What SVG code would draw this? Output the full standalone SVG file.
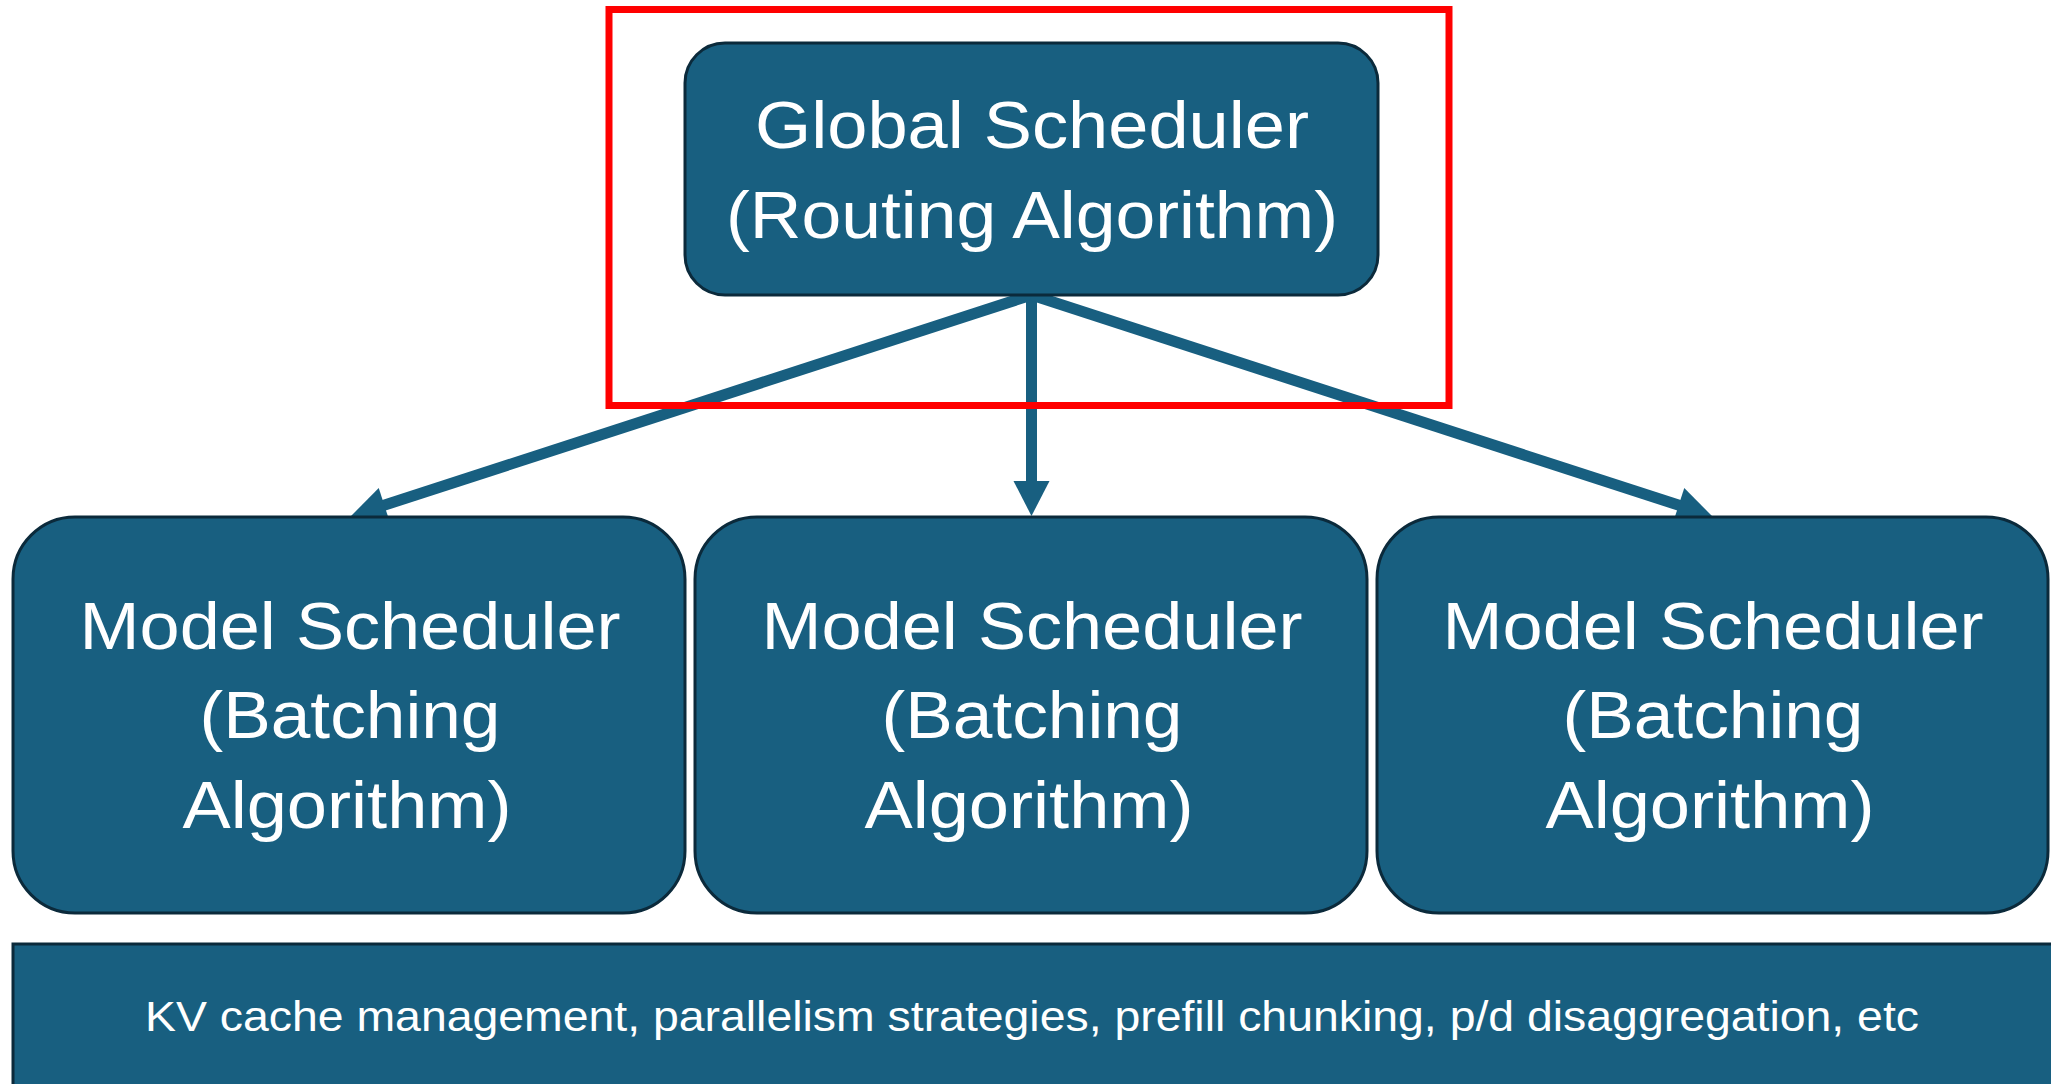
<svg xmlns="http://www.w3.org/2000/svg" width="2051" height="1084" viewBox="0 0 2051 1084">
  <style>
    .box { fill: #185f80; stroke: #0b2a3b; stroke-width: 3; }
    .label { fill: #ffffff; font-family: "Liberation Sans", Arial, sans-serif; text-anchor: middle; }
    .big { font-size: 67px; }
    .small { font-size: 43px; }
    .edge { stroke: #185f80; stroke-width: 11; fill: none; marker-end: url(#head); }
  </style>
  <defs>
    <marker id="head" markerUnits="userSpaceOnUse" markerWidth="38" markerHeight="36" refX="2" refY="18" orient="auto" overflow="visible">
      <path d="M0,0 L35,18 L0,36 Z" fill="#185f80"/>
    </marker>
  </defs>
  <rect width="2051" height="1084" fill="#ffffff"/>

  <!-- connectors: global scheduler fans out to the three model schedulers -->
  <g id="connectors">
    <line class="edge" x1="1031.5" y1="295" x2="382.4" y2="505.8"/>
    <line class="edge" x1="1031.5" y1="295" x2="1031.5" y2="483"/>
    <line class="edge" x1="1031.5" y1="295" x2="1680.6" y2="505.8"/>
  </g>

  <g id="global-scheduler">
    <rect class="box" x="685" y="43" width="693" height="252" rx="40"/>
    <text class="label big" x="1032" y="148" textLength="554" lengthAdjust="spacingAndGlyphs">Global Scheduler</text>
    <text class="label big" x="1032" y="238" textLength="612" lengthAdjust="spacingAndGlyphs">(Routing Algorithm)</text>
  </g>

  <g id="model-scheduler-1">
    <rect class="box" x="13" y="517" width="672" height="396" rx="62"/>
    <text class="label big" x="350" y="649" textLength="541" lengthAdjust="spacingAndGlyphs">Model Scheduler</text>
    <text class="label big" x="350" y="738" textLength="301" lengthAdjust="spacingAndGlyphs">(Batching</text>
    <text class="label big" x="347" y="828" textLength="329" lengthAdjust="spacingAndGlyphs">Algorithm)</text>
  </g>

  <g id="model-scheduler-2">
    <rect class="box" x="695" y="517" width="672" height="396" rx="62"/>
    <text class="label big" x="1032" y="649" textLength="541" lengthAdjust="spacingAndGlyphs">Model Scheduler</text>
    <text class="label big" x="1032" y="738" textLength="301" lengthAdjust="spacingAndGlyphs">(Batching</text>
    <text class="label big" x="1029" y="828" textLength="329" lengthAdjust="spacingAndGlyphs">Algorithm)</text>
  </g>

  <g id="model-scheduler-3">
    <rect class="box" x="1377" y="517" width="671" height="396" rx="62"/>
    <text class="label big" x="1713" y="649" textLength="541" lengthAdjust="spacingAndGlyphs">Model Scheduler</text>
    <text class="label big" x="1713" y="738" textLength="301" lengthAdjust="spacingAndGlyphs">(Batching</text>
    <text class="label big" x="1710" y="828" textLength="329" lengthAdjust="spacingAndGlyphs">Algorithm)</text>
  </g>

  <g id="serving-layer">
    <rect class="box" x="13" y="944" width="2050" height="150"/>
    <text class="label small" x="1032" y="1031" textLength="1774" lengthAdjust="spacingAndGlyphs">KV cache management, parallelism strategies, prefill chunking, p/d disaggregation, etc</text>
  </g>

  <!-- red highlight frame around the routing layer -->
  <g id="highlight">
    <rect x="609" y="9.5" width="840" height="396" fill="none" stroke="#ff0000" stroke-width="7"/>
  </g>
</svg>
